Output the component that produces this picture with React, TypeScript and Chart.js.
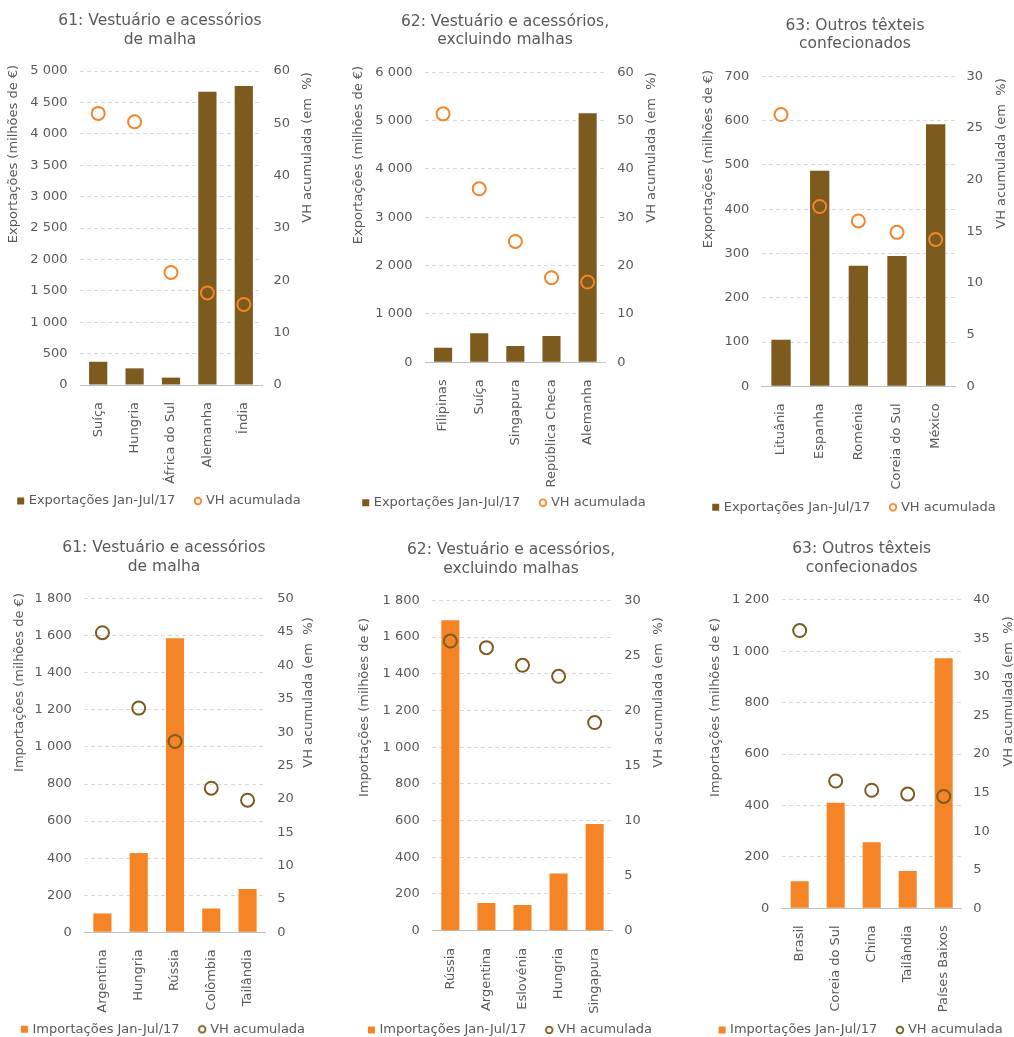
import React, { useEffect, useRef } from 'react';
import { Chart, registerables } from 'chart.js';

Chart.register(...registerables);

const BROWN = '#7D5A1E';
const ORANGE = '#F58426';
const TEXT = '#595959';
const GRID = '#D9D9D9';
const AXIS = '#BFBFBF';
const FONT = 'DejaVu Sans';

// ---- Data ----
const c1Categories = ['Suíça', 'Hungria', 'África do Sul', 'Alemanha', 'Índia'];
const c1Exports = [370, 265, 117, 4670, 4760];
const c1VH = [51.9, 50.3, 21.5, 17.6, 15.4];

const c2Categories = ['Filipinas', 'Suíça', 'Singapura', 'República Checa', 'Alemanha'];
const c2Exports = [302, 600, 337, 544, 5152];
const c2VH = [51.4, 35.9, 25.0, 17.5, 16.6];

const c3Categories = ['Lituânia', 'Espanha', 'Roménia', 'Coreia do Sul', 'México'];
const c3Exports = [105, 487, 272, 294, 592];
const c3VH = [26.3, 17.4, 16.0, 14.9, 14.2];

const c4Categories = ['Argentina', 'Hungria', 'Rússia', 'Colômbia', 'Tailândia'];
const c4Imports = [101, 428, 1586, 129, 234];
const c4VH = [44.9, 33.6, 28.6, 21.6, 19.8];

const c5Categories = ['Rússia', 'Argentina', 'Eslovénia', 'Hungria', 'Singapura'];
const c5Imports = [1691, 151, 140, 312, 581];
const c5VH = [26.3, 25.7, 24.1, 23.1, 18.9];

const c6Categories = ['Brasil', 'Coreia do Sul', 'China', 'Tailândia', 'Países Baixos'];
const c6Imports = [105, 410, 257, 145, 972];
const c6VH = [36.0, 16.5, 15.3, 14.8, 14.5];

const title61 = ['61: Vestuário e acessórios', 'de malha'];
const title62 = ['62: Vestuário e acessórios,', 'excluindo malhas'];
const title63 = ['63: Outros têxteis', 'confecionados'];

const exportsLabel = 'Exportações Jan-Jul/17';
const importsLabel = 'Importações Jan-Jul/17';
const vhLabel = 'VH acumulada';
const exportsAxis = 'Exportações (milhões de €)';
const importsAxis = 'Importações (milhões de €)';
const vhAxis = 'VH acumulada (em  %)';

type Spec = {
  x0: number; y0: number; W: number; H: number;
  title: string[];
  categories: string[]; bars: number[]; vh: number[];
  barLabel: string; barColor: string; pointColor: string; leftAxis: string;
  yMax: number; yStep: number; y1Max: number; y1Step: number;
  cx: number; titleY: number; T: number; B: number; L: number; R: number; legendY: number;
  ltx: number; lty: number; rtx: number; rty: number;
};

const specs: Spec[] = [
  { x0: 0, y0: 0, W: 340, H: 520, title: title61, categories: c1Categories, bars: c1Exports, vh: c1VH,
    barLabel: exportsLabel, barColor: BROWN, pointColor: ORANGE, leftAxis: exportsAxis,
    yMax: 5000, yStep: 500, y1Max: 60, y1Step: 10,
    cx: 160, titleY: 21, T: 71, B: 385, L: 80, R: 262, legendY: 501, ltx: 13.3, lty: 154, rtx: 307.5, rty: 147.5 },
  { x0: 340, y0: 0, W: 340, H: 520, title: title62, categories: c2Categories, bars: c2Exports, vh: c2VH,
    barLabel: exportsLabel, barColor: BROWN, pointColor: ORANGE, leftAxis: exportsAxis,
    yMax: 6000, yStep: 1000, y1Max: 60, y1Step: 10,
    cx: 165, titleY: 21.7, T: 72.3, B: 362.3, L: 85, R: 265.7, legendY: 502.7, ltx: 18.3, lty: 155, rtx: 311.7, rty: 147.5 },
  { x0: 680, y0: 0, W: 334, H: 520, title: title63, categories: c3Categories, bars: c3Exports, vh: c3VH,
    barLabel: exportsLabel, barColor: BROWN, pointColor: ORANGE, leftAxis: exportsAxis,
    yMax: 700, yStep: 100, y1Max: 30, y1Step: 5,
    cx: 175, titleY: 25.7, T: 76.3, B: 386.3, L: 81.7, R: 275, legendY: 507.3, ltx: 28.3, lty: 159, rtx: 321.7, rty: 153.5 },
  { x0: 0, y0: 520, W: 340, H: 517, title: title61, categories: c4Categories, bars: c4Imports, vh: c4VH,
    barLabel: importsLabel, barColor: ORANGE, pointColor: BROWN, leftAxis: importsAxis,
    yMax: 1800, yStep: 200, y1Max: 50, y1Step: 5,
    cx: 164, titleY: 28.3, T: 78.7, B: 412.3, L: 84.3, R: 265.7, legendY: 509.3, ltx: 20, lty: 162.5, rtx: 308.3, rty: 172.5 },
  { x0: 340, y0: 520, W: 340, H: 517, title: title62, categories: c5Categories, bars: c5Imports, vh: c5VH,
    barLabel: importsLabel, barColor: ORANGE, pointColor: BROWN, leftAxis: importsAxis,
    yMax: 1800, yStep: 200, y1Max: 30, y1Step: 5,
    cx: 171, titleY: 30, T: 80.3, B: 410.7, L: 92.3, R: 272.7, legendY: 510, ltx: 25, lty: 187.5, rtx: 318.3, rty: 172.5 },
  { x0: 680, y0: 520, W: 334, H: 517, title: title63, categories: c6Categories, bars: c6Imports, vh: c6VH,
    barLabel: importsLabel, barColor: ORANGE, pointColor: BROWN, leftAxis: importsAxis,
    yMax: 1200, yStep: 200, y1Max: 40, y1Step: 5,
    cx: 181.7, titleY: 29, T: 79.7, B: 388.3, L: 101.7, R: 281.7, legendY: 510, ltx: 36, lty: 187.5, rtx: 328.3, rty: 171.5 },
];

const TICK_SIZE = 13;
const TITLE_SIZE = 15.5;
const TITLE_LH = TITLE_SIZE * 1.2;
const LEGEND_PAD = 4;
const LEGEND_GAP = '\u2002\u2002 ';

const fmt = (v: number) => String(v).replace(/\B(?=(\d{3})+(?!\d))/g, ' ');

function circleImage(color: string) {
  const c = document.createElement('canvas');
  c.width = 10; c.height = 10;
  const g = c.getContext('2d')!;
  g.strokeStyle = color;
  g.lineWidth = 1.8;
  g.beginPath();
  g.arc(5, 5, 3.3, 0, Math.PI * 2);
  g.stroke();
  return c;
}

function ChartCell({ s }: { s: Spec }) {
  const ref = useRef<HTMLCanvasElement | null>(null);
  useEffect(() => {
    if (!ref.current) return;
    const d = 2 * s.cx - s.W;
    const padL = Math.max(d, 0);
    const padR = Math.max(-d, 0);
    const padB = s.H - 10 - TICK_SIZE / 2 - s.legendY;
    const tPadTop = s.titleY - TITLE_LH / 2;
    const tPadBottom = s.T - tPadTop - 2 * TITLE_LH;
    const circ = circleImage(s.pointColor);

    const axisTitles = {
      id: 'axisTitles',
      afterDraw(chart: any) {
        const ctx = chart.ctx;
        const drawV = (text: string, x: number, y: number) => {
          ctx.save();
          ctx.translate(x, y);
          ctx.rotate(-Math.PI / 2);
          ctx.fillStyle = TEXT;
          ctx.font = `${TICK_SIZE}px "${FONT}"`;
          ctx.textAlign = 'center';
          ctx.textBaseline = 'middle';
          ctx.fillText(text, 0, 0);
          ctx.restore();
        };
        drawV(s.leftAxis, s.ltx, s.lty);
        drawV(vhAxis, s.rtx, s.rty);
      },
    };

    const chart = new Chart(ref.current, {
      type: 'bar',
      data: {
        labels: s.categories,
        datasets: [
          {
            type: 'bar',
            label: s.barLabel,
            data: s.bars,
            backgroundColor: s.barColor,
            borderWidth: 0,
            yAxisID: 'y',
            order: 1,
            barPercentage: 0.5,
            categoryPercentage: 1,
            pointStyle: 'rect',
          } as any,
          {
            type: 'line',
            label: vhLabel,
            data: s.vh,
            yAxisID: 'y1',
            showLine: false,
            order: 0,
            pointStyle: 'circle',
            pointRadius: 6.5,
            pointHoverRadius: 6.5,
            pointBorderWidth: 2,
            pointBorderColor: s.pointColor,
            pointBackgroundColor: 'rgba(0,0,0,0)',
            borderColor: s.pointColor,
            backgroundColor: 'rgba(0,0,0,0)',
          } as any,
        ],
      },
      options: {
        responsive: false,
        animation: false,
        layout: { padding: { left: padL, right: padR, top: 0, bottom: padB } },
        plugins: {
          tooltip: { enabled: false },
          title: {
            display: true,
            text: s.title,
            color: TEXT,
            font: { family: FONT, size: TITLE_SIZE, weight: 'normal', lineHeight: 1.2 },
            padding: { top: tPadTop, bottom: tPadBottom },
          },
          legend: {
            display: true,
            position: 'bottom',
            labels: {
              color: TEXT,
              font: { family: FONT, size: TICK_SIZE },
              usePointStyle: true,
              boxWidth: 3,
              boxHeight: 7,
              padding: LEGEND_PAD,
              sort: (a: any, b: any) => a.datasetIndex - b.datasetIndex,
              generateLabels: (chart: any) => {
                const items = (Chart.defaults.plugins.legend.labels as any).generateLabels(chart);
                return items.map((it: any) =>
                  it.datasetIndex === 1
                    ? { ...it, pointStyle: circ }
                    : { ...it, text: it.text + LEGEND_GAP }
                );
              },
            },
          },
        },
        scales: {
          x: {
            grid: { display: false },
            border: { display: true, color: AXIS, width: 1 },
            ticks: {
              color: TEXT,
              font: { family: FONT, size: TICK_SIZE },
              autoSkip: false,
              minRotation: 90,
              maxRotation: 90,
              padding: 9,
            },
            afterFit: (scale: any) => {
              const lh = scale.chart.legend ? scale.chart.legend.height : 0;
              scale.height = s.H - padB - lh - s.B;
            },
          },
          y: {
            position: 'left',
            min: 0,
            max: s.yMax,
            grid: {
              drawTicks: false,
              color: (c: any) => (c.tick && c.tick.value === 0 ? 'rgba(0,0,0,0)' : GRID),
              lineWidth: 1,
            },
            border: { display: false, dash: [4, 3] },
            ticks: {
              stepSize: s.yStep,
              color: TEXT,
              font: { family: FONT, size: TICK_SIZE },
              padding: 12.5,
              callback: (v: any) => fmt(Number(v)),
            },
            afterFit: (scale: any) => {
              scale.width = s.L - padL;
            },
          },
          y1: {
            position: 'right',
            min: 0,
            max: s.y1Max,
            grid: { display: false, drawTicks: false },
            border: { display: false },
            ticks: {
              stepSize: s.y1Step,
              color: TEXT,
              font: { family: FONT, size: TICK_SIZE },
              padding: 11.5,
            },
            afterFit: (scale: any) => {
              scale.width = s.W - padR - s.R;
            },
          },
        },
      } as any,
      plugins: [axisTitles],
    });
    return () => chart.destroy();
  }, [s]);

  return (
    <div style={{ position: 'absolute', left: s.x0, top: s.y0, width: s.W, height: s.H }}>
      <canvas ref={ref} width={s.W} height={s.H} style={{ width: s.W, height: s.H, display: 'block' }} />
    </div>
  );
}

export default function App() {
  return (
    <div
      style={{
        position: 'absolute',
        left: 0,
        top: 0,
        width: 1014,
        height: 1037,
        overflow: 'hidden',
        background: '#ffffff',
      }}
    >
      {specs.map((s, i) => (
        <ChartCell key={i} s={s} />
      ))}
    </div>
  );
}
